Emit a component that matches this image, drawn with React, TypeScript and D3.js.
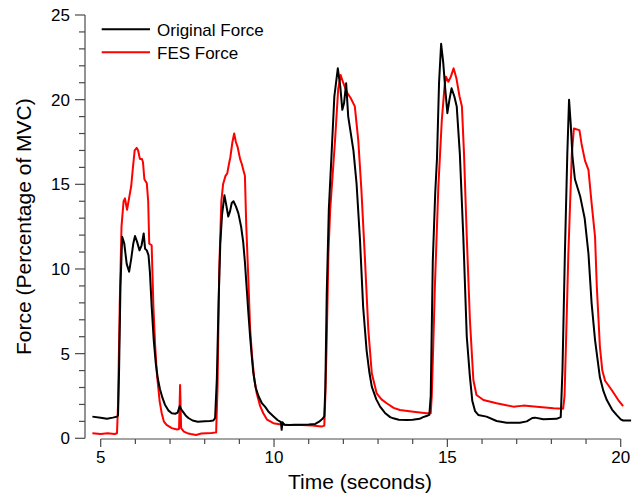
import React from "react";
import * as d3 from "d3";

const W = 642;
const H = 498;

const seriesNames = ["Original Force", "FES Force"];
const seriesColors = ["#000000", "#ff0000"];

const xTickLabels = [5, 10, 15, 20];
const yTickLabels = [0, 5, 10, 15, 20, 25];

const originalT = [4.76, 5.0, 5.18, 5.35, 5.47, 5.5, 5.53, 5.57, 5.62, 5.68, 5.75, 5.82, 5.88, 5.94, 5.99, 6.05, 6.12, 6.18, 6.24, 6.28, 6.33, 6.38, 6.42, 6.47, 6.53, 6.59, 6.65, 6.71, 6.78, 6.85, 6.95, 7.05, 7.15, 7.22, 7.28, 7.31, 7.36, 7.45, 7.53, 7.65, 7.8, 8.0, 8.15, 8.25, 8.3, 8.35, 8.4, 8.45, 8.5, 8.57, 8.62, 8.68, 8.73, 8.78, 8.83, 8.9, 8.97, 9.05, 9.11, 9.16, 9.21, 9.26, 9.31, 9.36, 9.4, 9.47, 9.55, 9.65, 9.74, 9.85, 9.98, 10.1, 10.2, 10.22, 10.24, 10.3, 10.45, 10.6, 10.8, 11.0, 11.19, 11.3, 11.4, 11.45, 11.48, 11.52, 11.58, 11.66, 11.74, 11.84, 11.91, 11.97, 12.02, 12.08, 12.14, 12.2, 12.29, 12.38, 12.48, 12.57, 12.67, 12.75, 12.82, 12.95, 13.06, 13.2, 13.35, 13.44, 13.6, 13.83, 14.0, 14.2, 14.3, 14.4, 14.48, 14.52, 14.58, 14.65, 14.7, 14.76, 14.82, 14.88, 14.94, 15.0, 15.06, 15.12, 15.2, 15.27, 15.36, 15.46, 15.56, 15.65, 15.72, 15.8, 15.89, 16.13, 16.42, 16.71, 17.09, 17.29, 17.45, 17.53, 17.77, 18.15, 18.27, 18.32, 18.39, 18.46, 18.51, 18.56, 18.61, 18.68, 18.83, 18.96, 19.07, 19.16, 19.26, 19.4, 19.5, 19.6, 19.75, 19.88, 20.0, 20.07, 20.3];
const originalV = [1.28, 1.22, 1.15, 1.22, 1.28, 1.35, 4.0, 9.0, 11.9, 11.5, 10.3, 9.84, 10.6, 11.5, 11.95, 11.6, 11.1, 11.4, 12.1, 11.2, 11.1, 10.8, 9.8, 7.8, 5.8, 4.4, 3.5, 2.9, 2.4, 2.0, 1.65, 1.48, 1.45, 1.52, 1.9, 1.75, 1.6, 1.35, 1.2, 1.05, 0.98, 1.0, 1.02, 1.05, 1.2, 3.5, 8.0, 11.5, 13.2, 14.35, 13.8, 13.1, 13.4, 13.9, 14.0, 13.7, 13.3, 12.5, 11.6, 10.4, 8.9, 7.4, 6.0, 4.8, 3.9, 3.0, 2.5, 2.07, 1.87, 1.55, 1.3, 1.08, 0.95, 0.5, 0.95, 0.8, 0.78, 0.8, 0.8, 0.82, 0.85, 0.98, 1.15, 1.3, 3.0, 8.5, 13.5, 16.8, 20.2, 21.85, 20.8, 19.4, 19.8, 20.97, 19.0, 18.2, 17.0, 15.06, 11.7, 7.77, 5.2, 3.9, 3.05, 2.3, 1.87, 1.5, 1.25, 1.18, 1.1, 1.08, 1.1, 1.15, 1.25, 1.32, 1.38, 2.5, 10.5, 14.5, 16.5, 21.0, 23.3, 22.2, 20.6, 19.2, 20.0, 20.67, 20.2, 19.6, 16.8, 11.9, 6.0, 3.64, 2.2, 1.6, 1.38, 1.28, 1.02, 0.92, 0.92, 1.0, 1.2, 1.22, 1.12, 1.15, 1.25, 4.0, 10.9, 16.8, 20.0, 18.5, 16.6, 15.3, 14.3, 13.0, 10.9, 8.0, 5.8, 3.6, 2.8, 2.26, 1.7, 1.38, 1.12, 1.05, 1.05];

const fesT = [4.76, 5.0, 5.2, 5.4, 5.47, 5.5, 5.55, 5.6, 5.66, 5.7, 5.76, 5.82, 5.88, 5.93, 5.98, 6.04, 6.08, 6.13, 6.19, 6.22, 6.26, 6.33, 6.37, 6.4, 6.47, 6.52, 6.57, 6.62, 6.7, 6.76, 6.82, 6.9, 7.05, 7.2, 7.26, 7.29, 7.32, 7.4, 7.5, 7.6, 7.75, 7.9, 8.05, 8.2, 8.33, 8.37, 8.42, 8.48, 8.53, 8.6, 8.65, 8.7, 8.74, 8.8, 8.85, 8.9, 8.95, 9.02, 9.07, 9.12, 9.16, 9.2, 9.26, 9.31, 9.36, 9.43, 9.5, 9.6, 9.69, 9.8, 9.98, 10.2, 10.46, 10.8, 11.1, 11.37, 11.45, 11.48, 11.52, 11.57, 11.62, 11.66, 11.76, 11.85, 11.92, 12.0, 12.11, 12.21, 12.33, 12.43, 12.52, 12.62, 12.72, 12.82, 12.96, 13.1, 13.25, 13.45, 13.63, 14.02, 14.4, 14.52, 14.55, 14.6, 14.64, 14.74, 14.84, 14.92, 14.96, 15.03, 15.1, 15.18, 15.26, 15.35, 15.42, 15.48, 15.56, 15.65, 15.75, 15.84, 16.04, 16.42, 16.9, 17.19, 17.58, 18.06, 18.34, 18.38, 18.44, 18.49, 18.59, 18.65, 18.72, 18.81, 18.87, 18.97, 19.07, 19.16, 19.26, 19.31, 19.36, 19.4, 19.47, 19.55, 19.74, 19.93, 20.07];
const fesV = [0.3, 0.25, 0.3, 0.25, 0.3, 2.0, 8.0, 12.5, 14.0, 14.17, 13.5, 14.2, 14.9, 16.0, 17.0, 17.15, 17.0, 16.5, 16.5, 16.3, 15.3, 15.06, 14.0, 11.5, 11.4, 7.8, 5.5, 3.84, 2.2, 1.48, 1.0, 0.79, 0.6, 0.52, 0.55, 3.15, 0.6, 0.4, 0.3, 0.25, 0.2, 0.28, 0.3, 0.32, 0.35, 3.0, 10.0, 14.0, 15.0, 15.5, 15.65, 16.2, 16.6, 17.5, 18.0, 17.5, 17.2, 16.5, 16.2, 15.8, 15.5, 12.5, 9.35, 6.5, 5.0, 3.5, 2.66, 1.9, 1.48, 1.1, 0.89, 0.82, 0.79, 0.78, 0.76, 0.69, 0.75, 2.5, 5.8, 11.0, 13.5, 14.67, 17.6, 20.6, 21.46, 20.97, 20.4, 20.1, 19.6, 17.6, 14.67, 10.7, 6.4, 3.84, 2.66, 2.3, 2.07, 1.8, 1.67, 1.57, 1.48, 1.48, 2.5, 6.0, 8.96, 14.86, 18.8, 20.8, 21.36, 21.06, 21.36, 21.85, 21.27, 20.2, 19.6, 16.8, 11.9, 7.0, 3.44, 2.56, 2.26, 2.07, 1.87, 1.93, 1.87, 1.77, 1.75, 2.5, 7.0, 10.9, 16.8, 18.3, 18.25, 18.2, 17.4, 16.4, 15.85, 13.9, 11.9, 9.0, 7.0, 5.4, 4.0, 3.4, 2.85, 2.26, 1.9];

const FONT = "'Liberation Sans', Arial, Helvetica, sans-serif";

export default function App() {
  const x = d3.scaleLinear().domain([5, 20]).range([100.7, 620.7]);
  const y = d3.scaleLinear().domain([0, 25]).range([438.3, 15]);
  const axisColor = "#4a4a4a";
  const yAxisX = 85;
  const xAxisY = 439;

  const line = d3
    .line<[number, number]>()
    .x((d) => x(d[0]))
    .y((d) => y(d[1]));

  const orig: [number, number][] = originalT.map((t, i) => [t, originalV[i]]);
  const fes: [number, number][] = fesT.map((t, i) => [t, fesV[i]]);

  const yMinor = d3.range(0, 26, 1);
  const xMinor = d3.range(5, 21, 1);

  return (
    <svg
      width={W}
      height={H}
      style={{ position: "fixed", left: 0, top: 0, background: "#fff" }}
      fontFamily={FONT}
    >
      <rect width={W} height={H} fill="#fff" />
      {/* Y axis */}
      <line x1={yAxisX} x2={yAxisX} y1={y(25)} y2={y(0)} stroke={axisColor} strokeWidth={1.2} />
      {yMinor.map((v) => (
        <line
          key={"ym" + v}
          x1={yAxisX - (v % 5 === 0 ? 10 : 6)}
          x2={yAxisX}
          y1={y(v)}
          y2={y(v)}
          stroke={axisColor}
          strokeWidth={1.2}
        />
      ))}
      {yTickLabels.map((v) => (
        <text
          key={"yl" + v}
          x={70}
          y={y(v)}
          dy="0.36em"
          textAnchor="end"
          fontSize={17}
          fill="#000"
        >
          {v}
        </text>
      ))}
      {/* X axis */}
      <line x1={x(5)} x2={x(20)} y1={xAxisY} y2={xAxisY} stroke={axisColor} strokeWidth={1.2} />
      {xMinor.map((v) => (
        <line
          key={"xm" + v}
          x1={x(v)}
          x2={x(v)}
          y1={xAxisY}
          y2={xAxisY + (v % 5 === 0 ? 8 : 5)}
          stroke={axisColor}
          strokeWidth={1.2}
        />
      ))}
      {xTickLabels.map((v) => (
        <text key={"xl" + v} x={x(v)} y={462.5} textAnchor="middle" fontSize={17} fill="#000">
          {v}
        </text>
      ))}
      {/* Titles */}
      <text x={360} y={489} textAnchor="middle" fontSize={21} fill="#000">
        Time (seconds)
      </text>
      <text
        transform={`translate(30.5, ${(y(0) + y(25)) / 2}) rotate(-90)`}
        textAnchor="middle"
        fontSize={21}
        fill="#000"
      >
        Force (Percentage of MVC)
      </text>
      {/* Lines */}
      <path d={line(fes) || ""} fill="none" stroke={seriesColors[1]} strokeWidth={2} strokeLinejoin="round" />
      <path d={line(orig) || ""} fill="none" stroke={seriesColors[0]} strokeWidth={2} strokeLinejoin="round" />
      {/* Legend */}
      {seriesNames.map((n, i) => (
        <g key={n}>
          <line x1={101.7} x2={150} y1={29.3 + i * 23} y2={29.3 + i * 23} stroke={seriesColors[i]} strokeWidth={2} />
          <text x={157} y={35.5 + i * 23} fontSize={17} fill="#000">
            {n}
          </text>
        </g>
      ))}
    </svg>
  );
}
